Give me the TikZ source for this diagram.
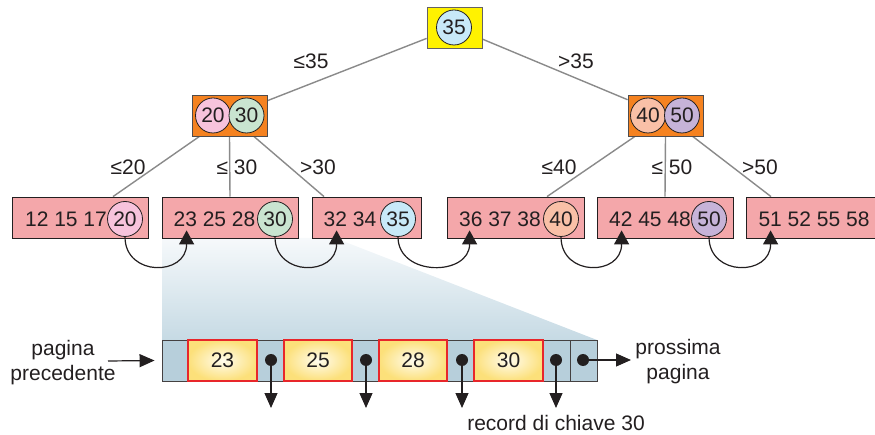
\documentclass[tikz,border=0pt]{standalone}
\usepackage{fontspec}
\setmainfont{Liberation Sans}
\usetikzlibrary{arrows.meta,calc}
\definecolor{ink}{HTML}{231F20}
\definecolor{leafpink}{HTML}{F4A7AA}
\definecolor{intorange}{HTML}{F58220}
\definecolor{rootyellow}{HTML}{FFF200}
\definecolor{cpink}{HTML}{F7C3DC}
\definecolor{cgreen}{HTML}{C9E4D0}
\definecolor{cblue}{HTML}{C8E9F8}
\definecolor{csalmon}{HTML}{F9C0A7}
\definecolor{cpurple}{HTML}{C6B3D8}
\definecolor{edgegray}{HTML}{8A8A8A}
\definecolor{cellblue}{HTML}{B7CFDB}
\definecolor{cellred}{HTML}{E8262A}
\definecolor{shadetop}{HTML}{F6F9FB}
\definecolor{shadebot}{HTML}{C6DAE4}
\definecolor{yin}{HTML}{FFFCEE}
\definecolor{yout}{HTML}{FCE07A}
\begin{document}
\begin{tikzpicture}[x=1pt,y=-1pt,
  font=\fontsize{21}{25}\selectfont, text=ink,
  key/.style={circle, draw=ink, line width=0.8pt, minimum size=35pt, inner sep=0pt},
  leafbox/.style={rectangle, fill=leafpink, draw=ink, line width=0.8pt, minimum height=41pt, inner sep=0pt},
  intbox/.style={rectangle, fill=intorange, draw=ink!80, line width=0.8pt, minimum width=75pt, minimum height=41pt, inner sep=0pt},
  rootbox/.style={rectangle, fill=rootyellow, draw=ink!70, line width=0.8pt, minimum width=55pt, minimum height=41pt, inner sep=0pt},
  treeedge/.style={draw=edgegray, line width=1.4pt},
  lbl/.style={inner sep=0pt},
  link/.style={draw=ink, line width=1.2pt, -{Triangle[length=14pt,width=15pt]}},
  ptr/.style={draw=ink, line width=1.2pt, -{Triangle[length=15pt,width=13pt]}},
  bcell/.style={rectangle, fill=cellblue, draw=ink!85, line width=0.9pt, minimum height=41pt, inner sep=0pt},
  ycell/.style={rectangle, shading=radial, inner color=yin, outer color=yout, draw=cellred, line width=1.4pt, minimum height=41pt, inner sep=0pt},
  dot/.style={circle, fill=ink, inner sep=0pt, minimum size=12pt}
]
\clip (0,0) rectangle (875,435);
\useasboundingbox (0,0) rectangle (875,435);

% zoom shade
\shade[top color=shadetop, bottom color=shadebot] (162,238) -- (335,238) -- (597,340) -- (162,340) -- cycle;

% root and internal nodes
\node[rootbox] (root) at (454.5,27.5) {};
\node[intbox] (lint) at (229.5,115.5) {};
\node[intbox] (rint) at (665.5,115.5) {};

% leaves
\node[leafbox, minimum width=136pt] (leaf1) at (80,217.5) {};
\node[leafbox, minimum width=136pt] (leaf2) at (230,217.5) {};
\node[leafbox, minimum width=109pt] (leaf3) at (366.5,217.5) {};
\node[leafbox, minimum width=137pt] (leaf4) at (515.5,217.5) {};
\node[leafbox, minimum width=136pt] (leaf5) at (665,217.5) {};
\node[leafbox, minimum width=140pt] (leaf6) at (816,217.5) {};

% tree edges
\path[treeedge] (root) -- (lint);
\path[treeedge] (root) -- (rint);
\path[treeedge] (lint) -- ([xshift=33pt]leaf1.north);
\path[treeedge] (lint.south) -- (leaf2.north);
\path[treeedge] (lint) -- ([xshift=-42.5pt]leaf3.north);
\path[treeedge] (rint) -- ([xshift=31.5pt]leaf4.north);
\path[treeedge] (rint.south) -- (leaf5.north);
\path[treeedge] (rint) -- ([xshift=-45pt]leaf6.north);

% redraw boxes on top of edges
\node[rootbox] (rootb) at (454.5,27.5) {};
\node[intbox] (lintb) at (229.5,115.5) {};
\node[intbox] (rintb) at (665.5,115.5) {};

% keys
\node[key, fill=cblue] (k35) at (454,27.5) {35};
\node[key, fill=cpink] (k20) at (213,115.5) {20};
\node[key, fill=cgreen] (k30) at (246.5,115.5) {30};
\node[key, fill=csalmon] (k40) at (648,115.5) {40};
\node[key, fill=cpurple] (k50) at (682,115.5) {50};

% edge labels
\node[lbl] (l1) at (311,61) {≤35};
\node[lbl] (l2) at (576,61) {>35};
\node[lbl] (l3) at (128,167) {≤20};
\node[lbl] (l4) at (237,167) {≤ 30};
\node[lbl] (l5) at (318,167) {>30};
\node[lbl] (l6) at (559,167) {≤40};
\node[lbl] (l7) at (672,167) {≤ 50};
\node[lbl] (l8) at (760,167) {>50};

% leaf contents
\node[lbl] (t1) at (66,219) {12 15 17};
\node[key, fill=cpink] (c20) at (125,219) {20};
\node[lbl] (t2) at (214.5,219) {23 25 28};
\node[key, fill=cgreen] (c30) at (275,219) {30};
\node[lbl] (t3) at (350,219) {32 34};
\node[key, fill=cblue] (c35) at (398,219) {35};
\node[lbl] (t4) at (500,219) {36 37 38};
\node[key, fill=csalmon] (c40) at (561,219) {40};
\node[lbl] (t5) at (650,219) {42 45 48};
\node[key, fill=cpurple] (c50) at (709,219) {50};
\node[lbl] (t6) at (814,219) {51 52 55 58};

% sibling links
\draw[link] (c20.south) .. controls +(0,40) and +(0,46) .. ($(leaf2.south west)+(25,-8)$);
\draw[link] (c30.south) .. controls +(0,40) and +(0,46) .. ($(leaf3.south west)+(25,-8)$);
\draw[link] (c35.south) .. controls +(0,40) and +(0,46) .. ($(leaf4.south west)+(23,-8)$);
\draw[link] (c40.south) .. controls +(0,40) and +(0,46) .. ($(leaf5.south west)+(25,-8)$);
\draw[link] (c50.south) .. controls +(0,40) and +(0,46) .. ($(leaf6.south west)+(25,-8)$);

% page record
\node[bcell, minimum width=26pt] (b0) at (175,360.5) {};
\node[bcell, minimum width=27pt] (b1) at (270.5,360.5) {};
\node[bcell, minimum width=27pt] (b2) at (365.5,360.5) {};
\node[bcell, minimum width=27pt] (b3) at (460.5,360.5) {};
\node[bcell, minimum width=27pt] (b4) at (556.5,360.5) {};
\node[bcell, minimum width=27pt] (b5) at (583.5,360.5) {};
\node[ycell, minimum width=69pt] (y23) at (222.5,360.5) {23};
\node[ycell, minimum width=68pt] (y25) at (318,360.5) {25};
\node[ycell, minimum width=68pt] (y28) at (413,360.5) {28};
\node[ycell, minimum width=69pt] (y30) at (508.5,360.5) {30};

\node[dot] (d1) at (271,360) {};
\node[dot] (d2) at (366,360) {};
\node[dot] (d3) at (462,360) {};
\node[dot] (d4) at (556,360) {};
\node[dot] (d5) at (583,360) {};

\coordinate (e1) at (271,408);
\coordinate (e2) at (366,408);
\coordinate (e3) at (462,408);
\coordinate (e4) at (556,408);
\coordinate (nx) at (631,360);
\coordinate (pv) at (108,361);

\draw[ptr] (d1.center) -- (e1);
\draw[ptr] (d2.center) -- (e2);
\draw[ptr] (d3.center) -- (e3);
\draw[ptr] (d4.center) -- (e4);
\draw[ptr] (d5.center) -- (nx);
\draw[ptr] (pv) -- ([xshift=-7pt]b0.west);

\node[lbl, align=center] (prev) at (63,363) {pagina\\precedente};
\node[lbl, align=center] (next) at (678,362) {prossima\\pagina};
\node[lbl] (rec) at (556,423) {record di chiave 30};
\end{tikzpicture}
\end{document}
